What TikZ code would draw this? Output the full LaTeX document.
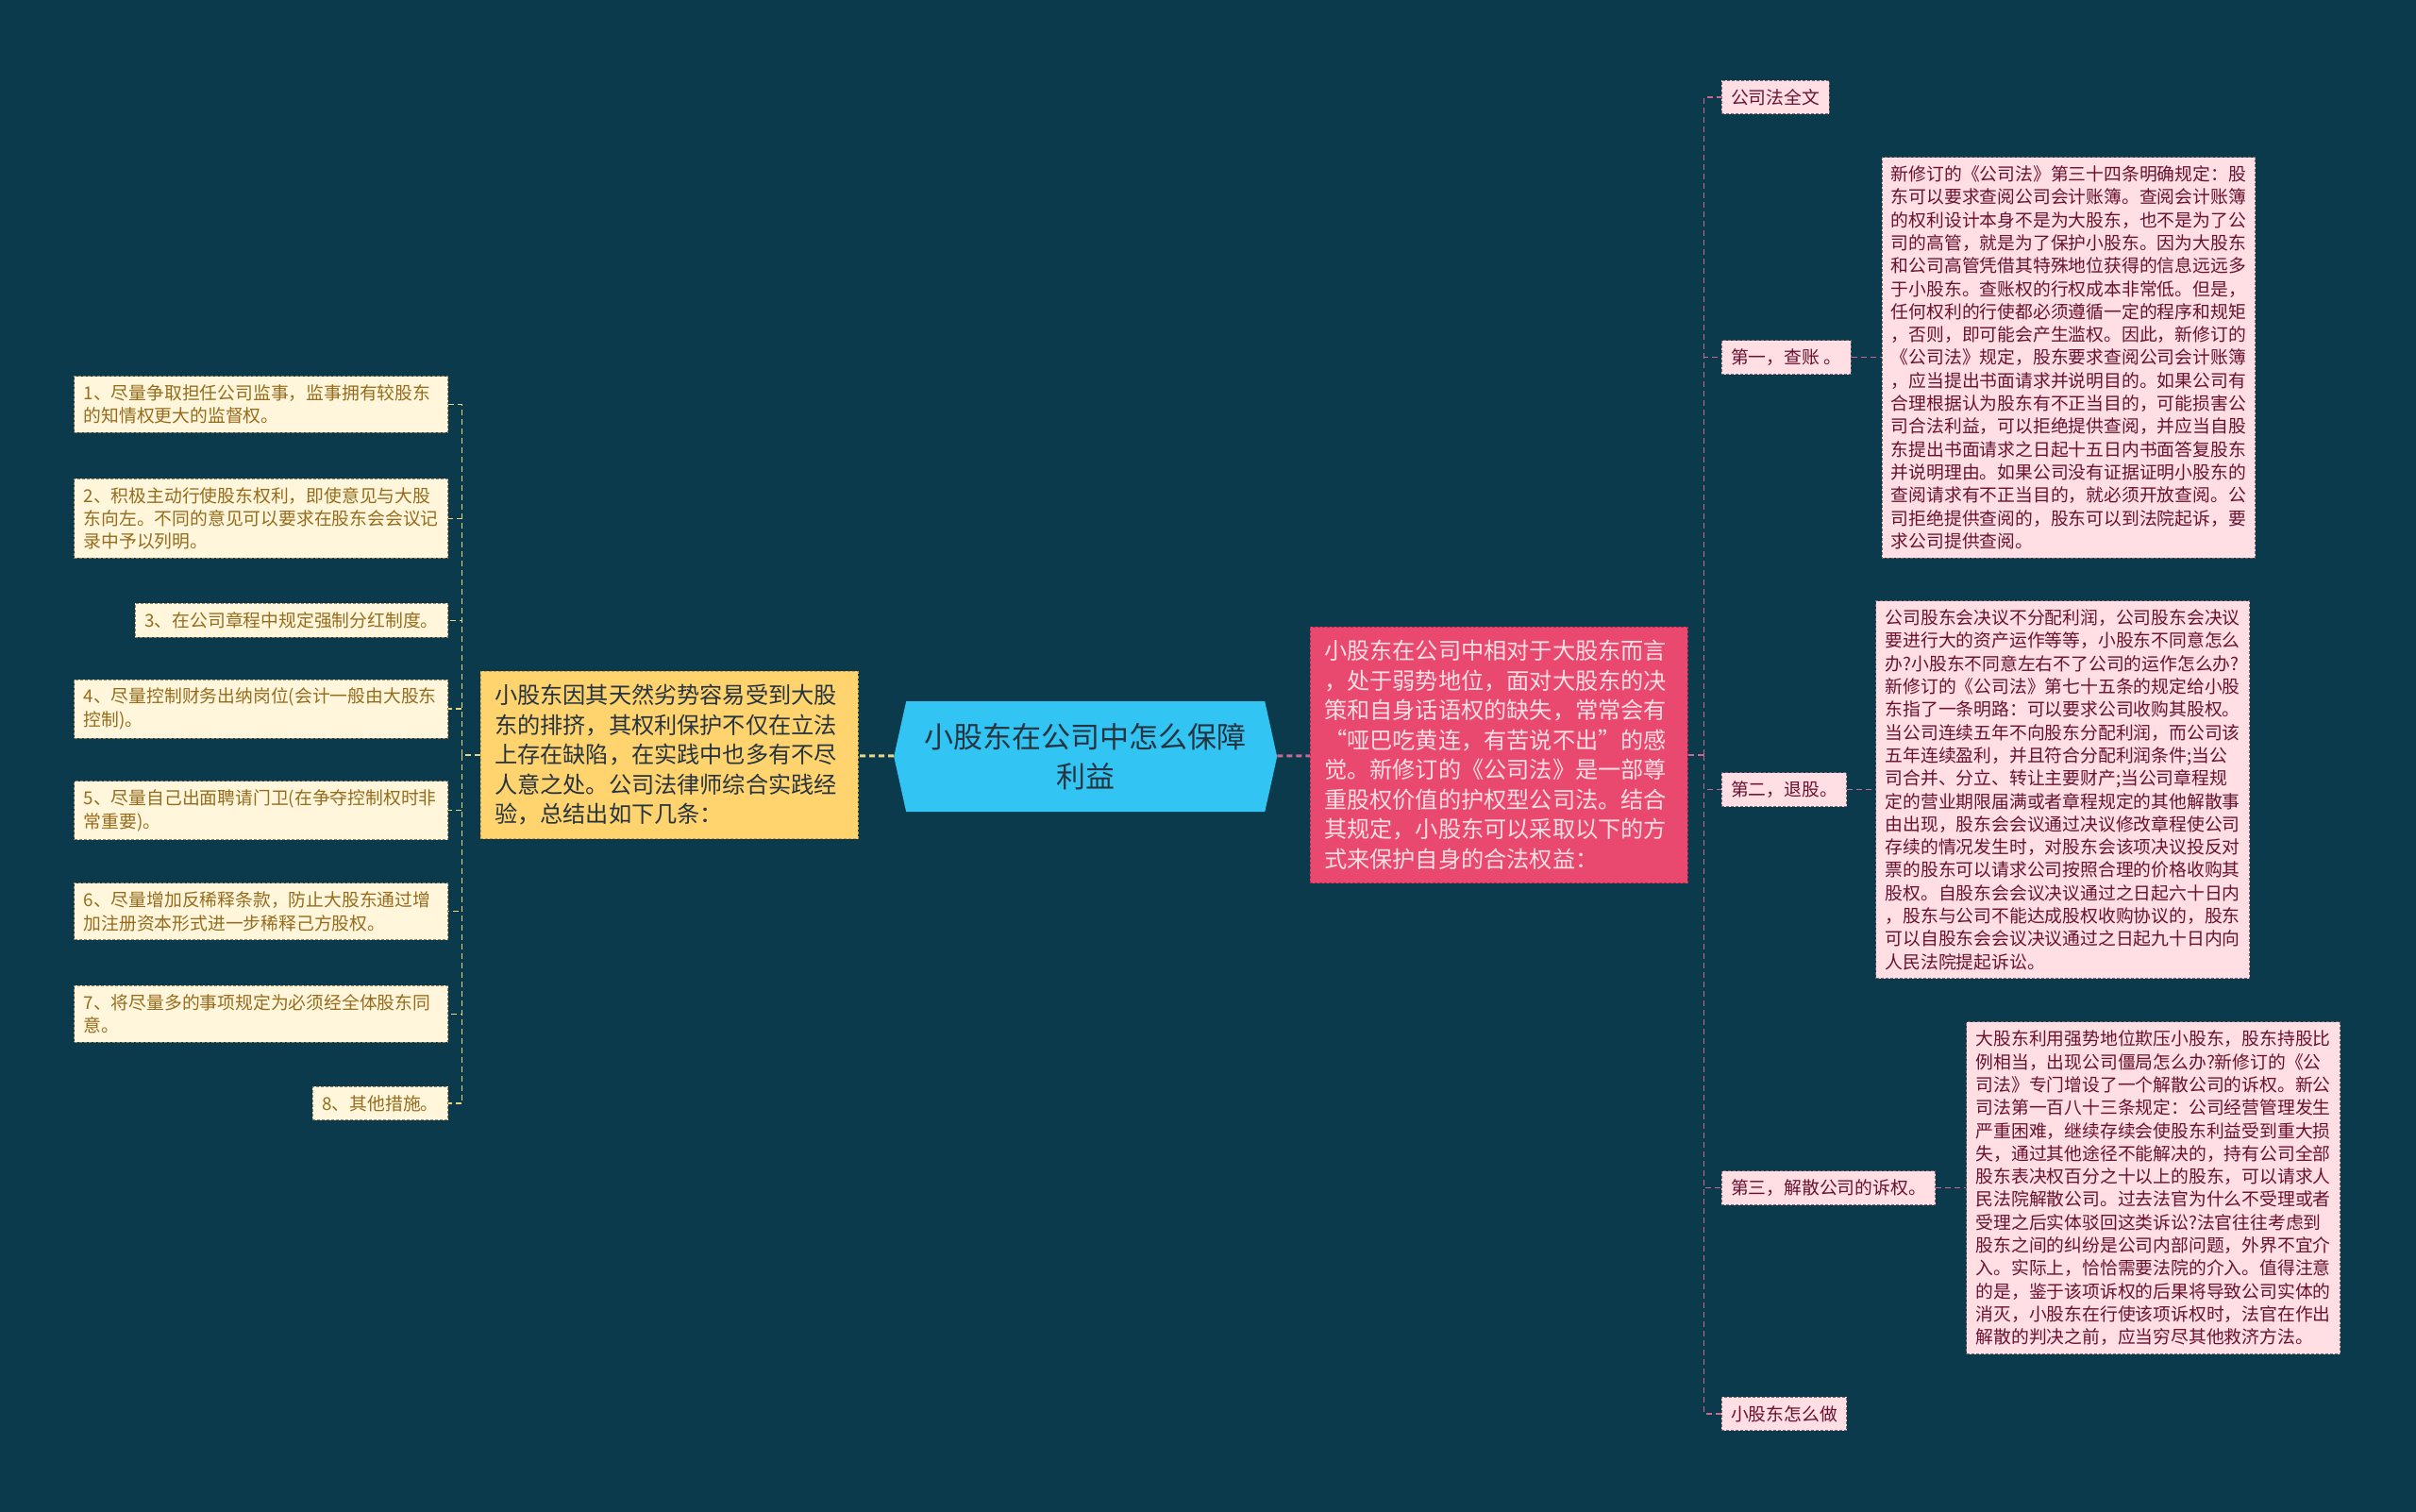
\documentclass[tikz,border=0pt]{standalone}
\usepackage{fontspec}
\setmainfont{Noto Sans CJK SC}
\usepackage{tikz}
\usetikzlibrary{positioning, shapes.symbols}
\definecolor{bgteal}{RGB}{11,58,77}
\definecolor{rootfill}{RGB}{50,196,242}
\definecolor{roottext}{RGB}{38,52,64}
\definecolor{goldfill}{RGB}{255,211,110}
\definecolor{goldline}{RGB}{214,160,60}
\definecolor{rosefill}{RGB}{234,73,111}
\definecolor{roseline}{RGB}{180,40,80}
\definecolor{creamfill}{RGB}{255,246,220}
\definecolor{creamline}{RGB}{150,130,90}
\definecolor{creamtext}{RGB}{150,108,28}
\definecolor{blushfill}{RGB}{255,222,228}
\definecolor{blushline}{RGB}{120,100,110}
\definecolor{blushtext}{RGB}{105,18,48}
\definecolor{lwirecol}{RGB}{232,214,130}
\definecolor{rwirecol}{RGB}{204,104,142}

\begin{document}
\begin{tikzpicture}[x=1.6327pt, y=-1.6327pt,
    leaf/.style={rectangle, draw, dash pattern=on 3pt off 2pt, line width=0.8pt, align=left,
        inner xsep=10pt, inner ysep=9pt, font=\fontsize{18.8}{24.3}\selectfont},
    creamleaf/.style={leaf, fill=creamfill, draw=creamline, text=creamtext},
    creamwide/.style={creamleaf, text width=376pt},
    blushleaf/.style={leaf, fill=blushfill, draw=blushline, text=blushtext},
    hub/.style={rectangle, draw, dash pattern=on 3pt off 2pt, line width=0.8pt, align=left,
        text width=370pt, inner xsep=15pt, inner ysep=14pt, font=\fontsize{24.2}{31.5}\selectfont},
    lwire/.style={draw=lwirecol, dash pattern=on 6pt off 4pt, line width=1.3pt},
    rwire/.style={draw=rwirecol, dash pattern=on 6pt off 4pt, line width=1.3pt}
]
    \fill[bgteal] (0,0) rectangle (1568,981);
    \useasboundingbox (0,0) rectangle (1568,981);

    % centre
    \node[signal, signal to=west and east, signal pointer angle=155, fill=rootfill, text=roottext,
        align=center, minimum width=406pt, minimum height=117pt,
        font=\fontsize{31}{42}\selectfont] (root) at (704.5,491) {小股东在公司中怎么保障\\利益};

    % left branch
    \node[hub, fill=goldfill, draw=goldline, text=roottext, anchor=east] (hubl) at (557,490)
        {小股东因其天然劣势容易受到大股\\东的排挤，其权利保护不仅在立法\\上存在缺陷，在实践中也多有不尽\\人意之处。公司法律师综合实践经\\验，总结出如下几条：};

    \node[creamwide, anchor=east] (m1) at (291,262.5) {1、尽量争取担任公司监事，监事拥有较股东\\的知情权更大的监督权。};
    \node[creamwide, anchor=east] (m2) at (291,336.5) {2、积极主动行使股东权利，即使意见与大股\\东向左。不同的意见可以要求在股东会会议记\\录中予以列明。};
    \node[creamleaf, anchor=east] (m3) at (291,402.5) {3、在公司章程中规定强制分红制度。};
    \node[creamwide, anchor=east] (m4) at (291,460) {4、尽量控制财务出纳岗位(会计一般由大股东\\控制)。};
    \node[creamwide, anchor=east] (m5) at (291,526) {5、尽量自己出面聘请门卫(在争夺控制权时非\\常重要)。};
    \node[creamwide, anchor=east] (m6) at (291,591.5) {6、尽量增加反稀释条款，防止大股东通过增\\加注册资本形式进一步稀释己方股权。};
    \node[creamwide, anchor=east] (m7) at (291,658) {7、将尽量多的事项规定为必须经全体股东同\\意。};
    \node[creamleaf, anchor=east] (m8) at (291,716) {8、其他措施。};

    % right branch
    \node[hub, fill=rosefill, draw=roseline, text=blushfill, anchor=west] (hubr) at (850,490)
        {小股东在公司中相对于大股东而言\\，处于弱势地位，面对大股东的决\\策和自身话语权的缺失，常常会有\\“哑巴吃黄连，有苦说不出”的感\\觉。新修订的《公司法》是一部尊\\重股权价值的护权型公司法。结合\\其规定，小股东可以采取以下的方\\式来保护自身的合法权益：};

    \node[blushleaf, anchor=west] (r0) at (1117,63) {公司法全文};
    \node[blushleaf, anchor=west] (r1) at (1117,232) {第一，查账 。};
    \node[blushleaf, anchor=west] (r2) at (1117,512.5) {第二，退股。};
    \node[blushleaf, anchor=west] (r3) at (1117,771) {第三，解散公司的诉权。};
    \node[blushleaf, anchor=west] (r4) at (1117,917.5) {小股东怎么做};

    \node[blushleaf, right=32pt of r1] (n1) {新修订的《公司法》第三十四条明确规定：股\\东可以要求查阅公司会计账簿。查阅会计账簿\\的权利设计本身不是为大股东，也不是为了公\\司的高管，就是为了保护小股东。因为大股东\\和公司高管凭借其特殊地位获得的信息远远多\\于小股东。查账权的行权成本非常低。但是，\\任何权利的行使都必须遵循一定的程序和规矩\\，否则，即可能会产生滥权。因此，新修订的\\《公司法》规定，股东要求查阅公司会计账簿\\，应当提出书面请求并说明目的。如果公司有\\合理根据认为股东有不正当目的，可能损害公\\司合法利益，可以拒绝提供查阅，并应当自股\\东提出书面请求之日起十五日内书面答复股东\\并说明理由。如果公司没有证据证明小股东的\\查阅请求有不正当目的，就必须开放查阅。公\\司拒绝提供查阅的，股东可以到法院起诉，要\\求公司提供查阅。};
    \node[blushleaf, right=30pt of r2] (n2) {公司股东会决议不分配利润，公司股东会决议\\要进行大的资产运作等等，小股东不同意怎么\\办?小股东不同意左右不了公司的运作怎么办?\\新修订的《公司法》第七十五条的规定给小股\\东指了一条明路：可以要求公司收购其股权。\\当公司连续五年不向股东分配利润，而公司该\\五年连续盈利，并且符合分配利润条件;当公\\司合并、分立、转让主要财产;当公司章程规\\定的营业期限届满或者章程规定的其他解散事\\由出现，股东会会议通过决议修改章程使公司\\存续的情况发生时，对股东会该项决议投反对\\票的股东可以请求公司按照合理的价格收购其\\股权。自股东会会议决议通过之日起六十日内\\，股东与公司不能达成股权收购协议的，股东\\可以自股东会会议决议通过之日起九十日内向\\人民法院提起诉讼。};
    \node[blushleaf, right=32pt of r3] (n3) {大股东利用强势地位欺压小股东，股东持股比\\例相当，出现公司僵局怎么办?新修订的《公\\司法》专门增设了一个解散公司的诉权。新公\\司法第一百八十三条规定：公司经营管理发生\\严重困难，继续存续会使股东利益受到重大损\\失，通过其他途径不能解决的，持有公司全部\\股东表决权百分之十以上的股东，可以请求人\\民法院解散公司。过去法官为什么不受理或者\\受理之后实体驳回这类诉讼?法官往往考虑到\\股东之间的纠纷是公司内部问题，外界不宜介\\入。实际上，恰恰需要法院的介入。值得注意\\的是，鉴于该项诉权的后果将导致公司实体的\\消灭，小股东在行使该项诉权时，法官在作出\\解散的判决之前，应当穷尽其他救济方法。};

    % connectors
    \coordinate (lfork) at (300,490);
    \coordinate (rfork) at (1106,490);
    \draw[lwire, line width=3pt] (root) -- (hubl);
    \draw[rwire, line width=3pt] (root) -- (hubr);
    \draw[lwire] (hubl.west) -- (lfork);
    \foreach \k in {1,...,8}
        \draw[lwire] (lfork) |- (m\k.east);
    \draw[rwire] (hubr.east) -- (rfork);
    \foreach \k in {0,...,4}
        \draw[rwire] (rfork) |- (r\k.west);
    \foreach \k in {1,2,3}
        \draw[rwire] (r\k) -- (n\k);
\end{tikzpicture}
\end{document}
